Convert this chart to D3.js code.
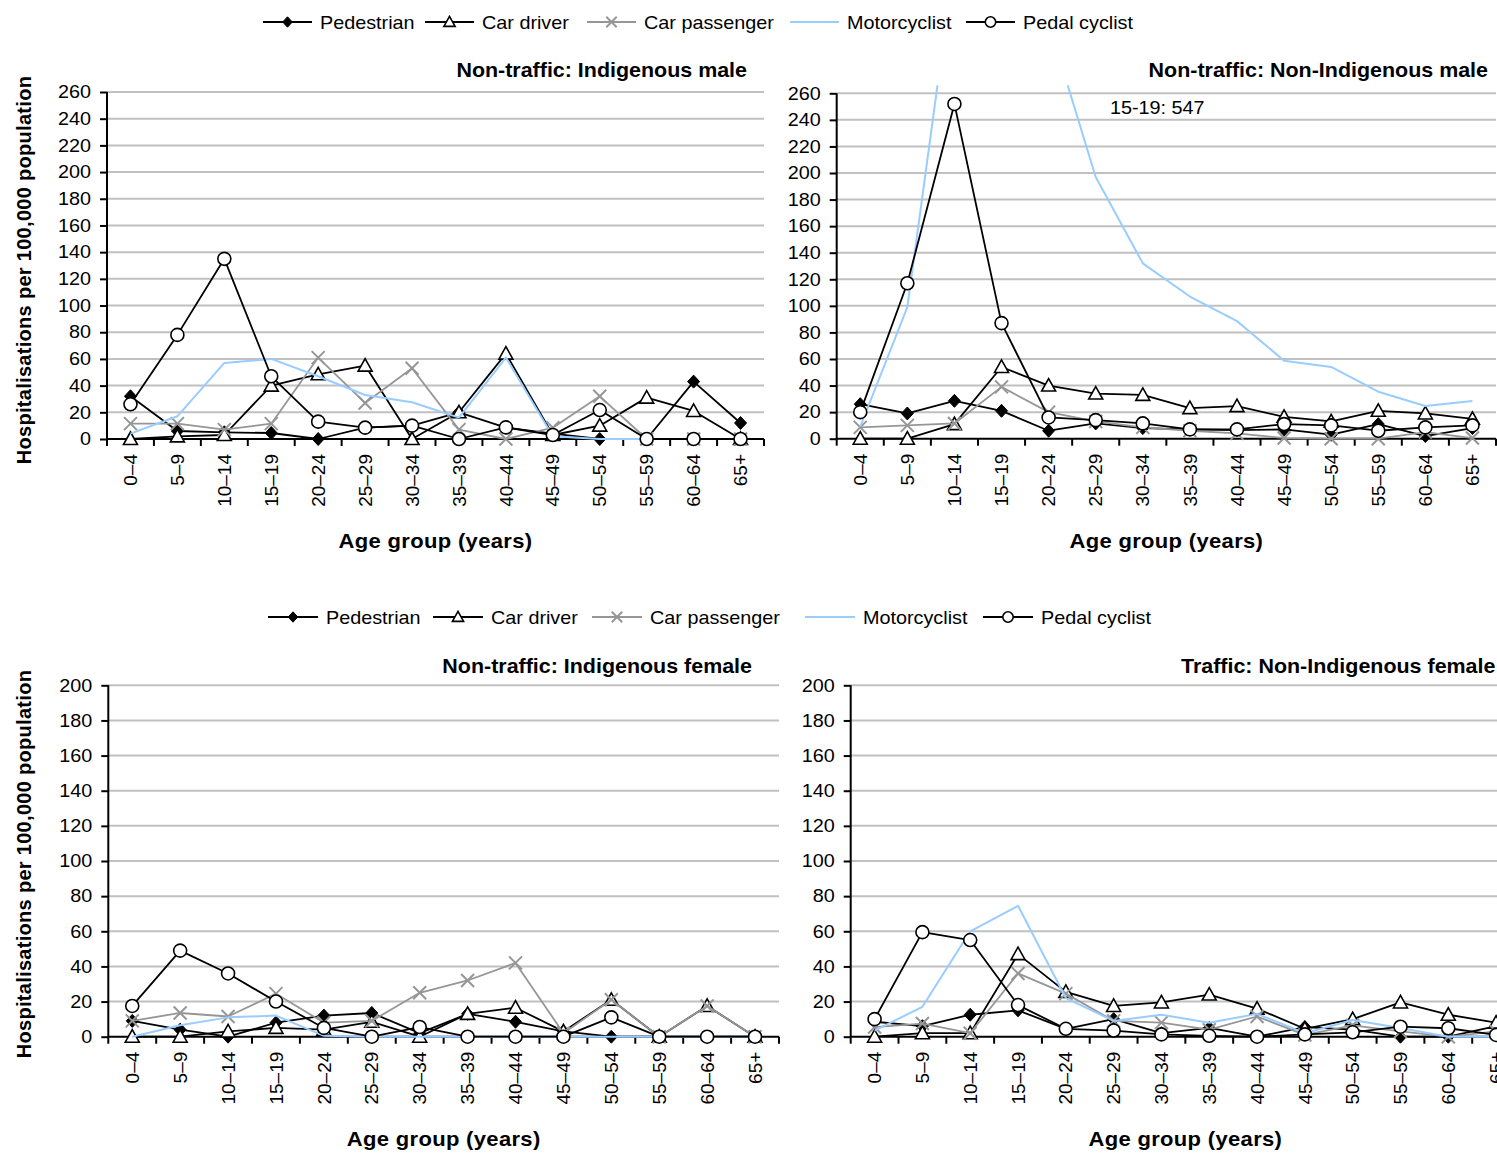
<!DOCTYPE html>
<html>
<head>
<meta charset="utf-8">
<script src="https://cdn.jsdelivr.net/npm/d3@7"></script>
<style>
  body { margin: 0; background: #fff; }
  svg { display: block; }
  text { font-family: "Liberation Sans", Arial, sans-serif; fill: #000; }
</style>
</head>
<body>
<svg id="chart" width="1497" height="1153"></svg>
<script>
// ---- Data: hospitalisation rates per 100,000 population by age group ----
const ageGroups = ['0–4','5–9','10–14','15–19','20–24','25–29','30–34','35–39','40–44','45–49','50–54','55–59','60–64','65+'];
const seriesNames = ['Pedestrian','Car driver','Car passenger','Motorcyclist','Pedal cyclist'];

// Non-traffic: Indigenous male
const ntIndigMalePedestrian   = [32, 6, 5, 4.5, 0, 8.5, 10, 20, 8.5, 4, 0, 0, 43, 12];
const ntIndigMaleCarDriver    = [0, 2, 3, 40, 48.5, 55, 0, 20, 64, 3, 10, 31, 21, 0];
const ntIndigMaleCarPassenger = [11.5, 11.5, 7, 11.5, 61, 27, 53, 7, 0, 8.5, 32, 0, 0, 0];
const ntIndigMaleMotorcyclist = [4, 17, 57, 60, 47, 33, 27.5, 16, 61, 2, 0, 0, 0, 0];
const ntIndigMalePedalCyclist = [26, 78, 135, 47, 13, 8.5, 10, 0, 8.7, 3, 21.7, 0, 0, 0];

// Non-traffic: Non-Indigenous male
const ntNonIndigMalePedestrian   = [26, 19, 28.5, 21, 6, 11.5, 8, 7, 6.5, 7, 3, 11, 2, 8];
const ntNonIndigMaleCarDriver    = [0, 0, 11, 54, 40, 34, 33, 23, 24.5, 16.5, 13, 21, 19, 15];
const ntNonIndigMaleCarPassenger = [8.5, 10, 11.5, 39, 20, 13, 8.5, 6, 4, 0.5, 0, 0, 5, 0.5];
const ntNonIndigMaleMotorcyclist = [9, 99, 360, 547, 313, 197, 132, 107, 88.5, 58.7, 54, 35.4, 24.6, 28.4];
const ntNonIndigMalePedalCyclist = [20, 117, 252, 87, 16, 14, 11.5, 7, 7, 11, 10, 6, 8.5, 10];

// Non-traffic: Indigenous female
const ntIndigFemalePedestrian   = [9, 4, 0, 8, 12, 13.5, 2, 13, 8.5, 3, 0, 0, 0, 0];
const ntIndigFemaleCarDriver    = [0, 0, 3, 5, 4, 8.5, 0, 13, 16.5, 3, 21, 0, 17.5, 0];
const ntIndigFemaleCarPassenger = [9, 13.5, 11.5, 24.5, 8, 9, 25, 32, 42, 2, 21, 0, 17.5, 0];
const ntIndigFemaleMotorcyclist = [0, 6.5, 11, 12, 0.5, 0, 0, 0, 0, 0, 0, 0, 0, 0];
const ntIndigFemalePedalCyclist = [17.5, 49, 36, 20, 5, 0, 5.5, 0, 0, 0, 11, 0, 0, 0];

// Traffic: Non-Indigenous female
const trNonIndigFemalePedestrian   = [8.5, 6, 12.5, 15, 4.5, 10, 2, 5, 0, 5.5, 4, 0, 0, 6];
const trNonIndigFemaleCarDriver    = [0, 2, 2, 47, 25.5, 17.5, 19.5, 24, 16, 4.5, 10, 19.5, 12.5, 8];
const trNonIndigFemaleCarPassenger = [5.5, 7.5, 2, 36, 24.5, 9, 8, 4, 11.5, 1, 6.5, 3, 0, 3];
const trNonIndigFemaleMotorcyclist = [3.5, 17, 60, 74.5, 22, 9, 12.5, 8, 13, 2, 9.5, 5, 0, 0];
const trNonIndigFemalePedalCyclist = [10, 59.5, 55, 18, 4.5, 3.5, 1.3, 0.5, 0, 1.3, 2.5, 5.7, 4.8, 1];

const ticksMale   = d3.range(0, 261, 20);
const ticksFemale = d3.range(0, 201, 20);

// ---- Styling ----
const SX = 1.1; // horizontal stretch applied to horizontal text
const seriesStyle = {
  'Pedestrian':    { stroke: '#000',    marker: 'diamond' },
  'Car driver':    { stroke: '#000',    marker: 'triangle' },
  'Car passenger': { stroke: '#969696', marker: 'cross' },
  'Motorcyclist':  { stroke: '#99ccff', marker: null },
  'Pedal cyclist': { stroke: '#000',    marker: 'circle' }
};

function markerPath(type, s) {
  switch (type) {
    case 'diamond':  return `M0,${-6.5*s}L${6*s},0L0,${6.5*s}L${-6*s},0Z`;
    case 'triangle': return `M0,${-7*s}L${7*s},${5.5*s}L${-7*s},${5.5*s}Z`;
    case 'cross':    return `M${-6.5*s},${-6.5*s}L${6.5*s},${6.5*s}M${-6.5*s},${6.5*s}L${6.5*s},${-6.5*s}`;
    case 'circle':   return d3.arc()({innerRadius: 0, outerRadius: 6.5*s, startAngle: 0, endAngle: 2*Math.PI});
  }
  return '';
}
function styleMarker(sel, type) {
  if (type === 'diamond') sel.attr('fill', '#000').attr('stroke', '#000').attr('stroke-width', 1);
  else if (type === 'cross') sel.attr('fill', 'none').attr('stroke', '#969696').attr('stroke-width', 2);
  else sel.attr('fill', '#fff').attr('stroke', '#000').attr('stroke-width', 1.6);
}

const svg = d3.select('#chart');

function hText(g, x, y, str, o = {}) {
  return g.append('text')
    .attr('transform', `translate(${x},${y}) scale(${SX},1)`)
    .attr('text-anchor', o.anchor || 'start')
    .style('font-size', (o.size || 18) + 'px')
    .style('font-weight', o.bold ? 'bold' : 'normal')
    .text(str);
}

// ---- Panels ----
const panels = [
  { title: 'Non-traffic: Indigenous male', titleX: 747, titleY: 77, titleAnchor: 'end',
    x0: 107, x1: 764, yBase: 439, yTopPx: 92, max: 260, ticks: ticksMale, axisTitleY: 548,
    series: [ntIndigMalePedestrian, ntIndigMaleCarDriver, ntIndigMaleCarPassenger, ntIndigMaleMotorcyclist, ntIndigMalePedalCyclist] },
  { title: 'Non-traffic: Non-Indigenous male', titleX: 1488, titleY: 77, titleAnchor: 'end',
    x0: 836.7, x1: 1496, yBase: 438.7, yTopPx: 93.3, max: 260, ticks: ticksMale, axisTitleY: 548,
    note: { text: '15-19: 547', x: 1110, y: 114 },
    series: [ntNonIndigMalePedestrian, ntNonIndigMaleCarDriver, ntNonIndigMaleCarPassenger, ntNonIndigMaleMotorcyclist, ntNonIndigMalePedalCyclist] },
  { title: 'Non-traffic: Indigenous female', titleX: 752, titleY: 673, titleAnchor: 'end',
    x0: 108.3, x1: 779, yBase: 1036.7, yTopPx: 685.3, max: 200, ticks: ticksFemale, axisTitleY: 1146,
    series: [ntIndigFemalePedestrian, ntIndigFemaleCarDriver, ntIndigFemaleCarPassenger, ntIndigFemaleMotorcyclist, ntIndigFemalePedalCyclist] },
  { title: 'Traffic: Non-Indigenous female', titleX: 1181, titleY: 673, titleAnchor: 'start',
    x0: 850.7, x1: 1520, yBase: 1036.7, yTopPx: 685.3, max: 200, ticks: ticksFemale, axisTitleY: 1146,
    series: [trNonIndigFemalePedestrian, trNonIndigFemaleCarDriver, trNonIndigFemaleCarPassenger, trNonIndigFemaleMotorcyclist, trNonIndigFemalePedalCyclist] }
];

const defs = svg.append('defs');

panels.forEach((p, pi) => {
  const g = svg.append('g');
  const x = d3.scaleBand().domain(ageGroups).range([p.x0, p.x1]).paddingInner(0).paddingOuter(0);
  const y = d3.scaleLinear().domain([0, p.max]).range([p.yBase, p.yTopPx]);
  const cx = d => x(d) + x.bandwidth() / 2;

  // gridlines
  g.append('g').selectAll('line').data(p.ticks.filter(t => t > 0)).join('line')
    .attr('x1', p.x0).attr('x2', p.x1)
    .attr('y1', d => y(d)).attr('y2', d => y(d))
    .attr('stroke', '#c0c0c0').attr('stroke-width', 2);

  // y axis
  const yAxis = g.append('g').attr('transform', `translate(${p.x0},0)`)
    .call(d3.axisLeft(y).tickValues(p.ticks).tickSize(7).tickPadding(9).tickFormat(d3.format('d')));
  yAxis.select('.domain').attr('stroke', '#000').attr('stroke-width', 2).attr('d', `M0,${p.yBase}V${p.yTopPx}`);
  yAxis.selectAll('.tick line').attr('stroke', '#000').attr('stroke-width', 2);
  yAxis.selectAll('.tick text')
    .attr('font-family', null).attr('font-size', null)
    .style('font-size', '18px')
    .attr('transform', `translate(-16,0) scale(${SX},1)`).attr('x', 0);

  // x axis with ticks at the band boundaries
  const xg = g.append('g');
  xg.append('line').attr('x1', p.x0).attr('x2', p.x1).attr('y1', p.yBase).attr('y2', p.yBase)
    .attr('stroke', '#000').attr('stroke-width', 2);
  const bounds = ageGroups.map(a => x(a)).concat([p.x1]);
  xg.selectAll('line.tk').data(bounds).join('line').attr('class', 'tk')
    .attr('x1', d => d).attr('x2', d => d).attr('y1', p.yBase).attr('y2', p.yBase + 7)
    .attr('stroke', '#000').attr('stroke-width', 2);
  xg.selectAll('text').data(ageGroups).join('text')
    .attr('transform', d => `translate(${cx(d)},${p.yBase + 15}) rotate(-90)`)
    .attr('text-anchor', 'end').attr('dy', '0.35em')
    .style('font-size', '19px')
    .text(d => d);

  // axis title
  hText(g, (p.x0 + p.x1) / 2, p.axisTitleY, 'Age group (years)', { anchor: 'middle', size: 20, bold: true })
    .style('letter-spacing', '0.3px');

  // panel title
  hText(g, p.titleX, p.titleY, p.title, { anchor: p.titleAnchor, size: 19.5, bold: true });

  // clip region for the series
  const clipId = 'clip' + pi;
  defs.append('clipPath').attr('id', clipId).append('rect')
    .attr('x', p.x0).attr('y', p.yTopPx - 8).attr('width', p.x1 - p.x0).attr('height', p.yBase - p.yTopPx + 20);

  const sg = g.append('g').attr('clip-path', `url(#${clipId})`);
  const line = d3.line().x((d, i) => cx(ageGroups[i])).y(d => y(d));

  seriesNames.forEach((name, si) => {
    const vals = p.series[si];
    const st = seriesStyle[name];
    sg.append('path').datum(vals).attr('d', line)
      .attr('fill', 'none').attr('stroke', st.stroke).attr('stroke-width', name === 'Motorcyclist' ? 2 : 1.8)
      .attr('stroke-linejoin', 'round');
    if (st.marker) {
      const m = sg.append('g').selectAll('path').data(vals).join('path')
        .attr('transform', (d, i) => `translate(${cx(ageGroups[i])},${y(d)})`)
        .attr('d', markerPath(st.marker, 1));
      styleMarker(m, st.marker);
    }
  });

  if (p.note) hText(g, p.note.x, p.note.y, p.note.text, { size: 18 });
});

// ---- Y axis titles ----
[[31, 270], [31, 864]].forEach(([tx, ty]) => {
  svg.append('text')
    .attr('transform', `translate(${tx},${ty}) rotate(-90)`)
    .attr('text-anchor', 'middle')
    .style('font-size', '20px').style('font-weight', 'bold').style('letter-spacing', '0.3px')
    .text('Hospitalisations per 100,000 population');
});

// ---- Legends ----
const legends = [
  { y: 22, lineStarts: [263, 425, 587, 790, 966], lineLen: 49, textGap: 57 },
  { y: 617, lineStarts: [268, 433, 592, 805, 983], lineLen: 50, textGap: 58 }
];
legends.forEach(L => {
  const lg = svg.append('g');
  seriesNames.forEach((name, i) => {
    const st = seriesStyle[name];
    const x0 = L.lineStarts[i];
    lg.append('line').attr('x1', x0).attr('x2', x0 + L.lineLen).attr('y1', L.y).attr('y2', L.y)
      .attr('stroke', st.stroke).attr('stroke-width', name === 'Motorcyclist' ? 2 : 1.8);
    if (st.marker) {
      const m = lg.append('path').attr('transform', `translate(${x0 + L.lineLen / 2},${L.y})`)
        .attr('d', markerPath(st.marker, 0.8));
      styleMarker(m, st.marker);
    }
    hText(lg, x0 + L.textGap, L.y + 7, name, { size: 18 });
  });
});
</script>
</body>
</html>
